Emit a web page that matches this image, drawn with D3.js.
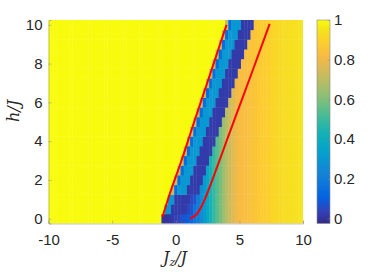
<!DOCTYPE html>
<html>
<head>
<meta charset="utf-8">
<script src="https://cdn.jsdelivr.net/npm/d3@7"></script>
<style>
body{margin:0;background:#fff;}
text{font-family:"Liberation Sans",Arial,sans-serif;fill:#262626;}
</style>
</head>
<body>
<div id="plot"></div>
<script>
// rows of the map (h/J) and where the dip band starts on each row (Jz/J)
var hRows = [0,0.5,1,1.5,2,2.5,3,3.5,4,4.5,5,5.5,6,6.5,7,7.5,8,8.5,9,9.5,10];
var bandStart = [-1,-0.75,-0.5,-0.25,0,0.25,0.5,0.75,1,1.25,1.5,1.75,2,2.25,2.5,2.75,3,3.25,3.5,3.75,4];
// cell values across the band, left to right (one cell = 0.25)
var bandVals = [0.72,0.14,0.3,0.3,0.3,0.02,0.02,0.02,0.02];
var bandLow = [0.3,0.3,0.02,0.02,0.02,0.02,0.02,0.05,0.07];
var bandRow0 = [0.0,0.0,0.01,0.02,0.03,0.04];
// value right of the band, per column from Jz/J = 0 to 10
var bgVals = [0.05,0.06,0.07,0.08,0.1,0.12,0.16,0.2,0.26,0.31,0.37,0.43,0.49,0.54,0.59,0.64,0.69,0.73,0.77,0.8,
  0.82,0.83,0.83,0.84,0.85,0.86,0.87,0.88,0.88,0.89,0.9,0.91,0.92,0.92,0.93,0.93,0.94,0.94,0.94,0.95,0.95];
// red curves
var line1H = [0.1,1.3,3.0,5.0,7.0,9.0,10.0];
var line1X = [-1.04,-0.46,0.45,1.45,2.47,3.48,3.99];
var line2H = [0,0.2,0.8,1.65,2.5,3.4,4.05,5.35,7,8.5,10.05];
var line2X = [1.11,1.6,2.15,2.68,3.16,3.66,4.02,4.75,5.68,6.52,7.38];

var xTicks = [-10,-5,0,5,10];
var yTicks = [0,2,4,6,8,10];
var cTicks = [0,0.2,0.4,0.6,0.8,1];

// parula colormap, every 4th entry
var parula = ['#352a87','#3243ba','#0363e1','#0d75dc','#1485d4','#0998d1','#06a7c6','#15b1b4',
  '#38b99e','#65be86','#92bf73','#b7bd64','#d9ba56','#f8bb44','#fcce2e','#f5e41d','#f9fb0e'];
var cmin = -0.025, cmax = 1.0;

var svg = d3.select('#plot').append('svg').attr('width',374).attr('height',272);

var x = d3.scaleLinear().domain([-10,10]).range([48.5,303]);
var y = d3.scaleLinear().domain([-0.25,10.25]).range([223.5,20]);

var pos = parula.map(function(c,i){ return i===parula.length-1 ? 1 : i*4/63; });
var color = d3.scaleLinear()
  .domain(pos.map(function(p){ return cmin + p*(cmax-cmin); }))
  .range(parula).interpolate(d3.interpolateRgb).clamp(true);

var cols = d3.range(-10,10.001,0.25);
var cells = [];
hRows.forEach(function(h,r){
  cols.forEach(function(xc){
    var j = Math.round((xc-bandStart[r])/0.25);
    var band = r===0 ? bandRow0 : (r<3 ? bandLow : bandVals);
    var v;
    if (j<0) v = 1;
    else if (j<band.length) v = band[j];
    else v = bgVals[Math.max(0,Math.round(xc/0.25))];
    cells.push({x:xc,h:h,v:v});
  });
});

svg.append('clipPath').attr('id','clip').append('rect')
  .attr('x',48.5).attr('y',20).attr('width',303-48.5).attr('height',223.5-20);

svg.append('g').attr('clip-path','url(#clip)')
  .selectAll('rect').data(cells).enter().append('rect')
  .attr('x',function(d){ return x(d.x-0.125); })
  .attr('y',function(d){ return y(d.h+0.25); })
  .attr('width',x(0.25)-x(0)+0.4)
  .attr('height',y(0)-y(0.5)+0.4)
  .attr('fill',function(d){ return color(d.v); });

var line = d3.line().curve(d3.curveCatmullRom);
var g = svg.append('g').attr('clip-path','url(#clip)');
[[line1X,line1H],[line2X,line2H]].forEach(function(p){
  g.append('path')
    .attr('d',line(p[0].map(function(v,i){ return [x(v),y(p[1][i])]; })))
    .attr('fill','none').attr('stroke','#ff0000').attr('stroke-width',2);
});

// axes
var xa = svg.append('g').attr('transform','translate(0,223.5)')
  .call(d3.axisBottom(x).tickValues(xTicks).tickSize(-3).tickPadding(11).tickFormat(d3.format('d')));
var ya = svg.append('g').attr('transform','translate(48.5,0)')
  .call(d3.axisLeft(y).tickValues(yTicks).tickSize(-3).tickPadding(6).tickFormat(d3.format('d')));
[xa,ya].forEach(function(a){
  a.selectAll('path').attr('stroke','#8a8a8a').attr('stroke-width',0.5);
  a.selectAll('line').attr('stroke','#8a8a8a').attr('stroke-width',0.5);
  a.selectAll('text').style('font-size','15px').attr('fill','#262626');
});
xa.selectAll('text').text(function(d){ return d<0 ? '-'+(-d) : d; });

// axis labels
svg.append('text').attr('x',175).attr('y',263).attr('text-anchor','middle')
  .style('font-family','"DejaVu Serif",serif').style('font-style','italic').style('font-size','16px')
  .html('J<tspan baseline-shift="-25%" font-size="11px">z</tspan>/J');
svg.append('text').attr('transform','translate(19,111) rotate(-90)').attr('text-anchor','middle')
  .style('font-family','"DejaVu Serif",serif').style('font-style','italic').style('font-size','16px')
  .text('h/J');

// colorbar
var cb = d3.scaleLinear().domain([cmin,cmax]).range([223.5,20]);
var grad = svg.append('defs').append('linearGradient').attr('id','cbg')
  .attr('x1',0).attr('y1',1).attr('x2',0).attr('y2',0);
pos.forEach(function(p,i){
  grad.append('stop').attr('offset',p).attr('stop-color',parula[i]);
});
svg.append('rect').attr('x',317).attr('y',20).attr('width',13).attr('height',203.5)
  .attr('fill','url(#cbg)').attr('stroke','#8a8a8a').attr('stroke-width',0.6);
var ca = svg.append('g').attr('transform','translate(330,0)')
  .call(d3.axisRight(cb).tickValues(cTicks).tickSize(-2.5).tickPadding(4).tickFormat(function(d){ return d; }));
ca.select('.domain').remove();
ca.selectAll('line').attr('stroke','#8a8a8a').attr('stroke-width',0.5);
ca.selectAll('text').style('font-size','15px').attr('fill','#262626');
</script>
</body>
</html>
